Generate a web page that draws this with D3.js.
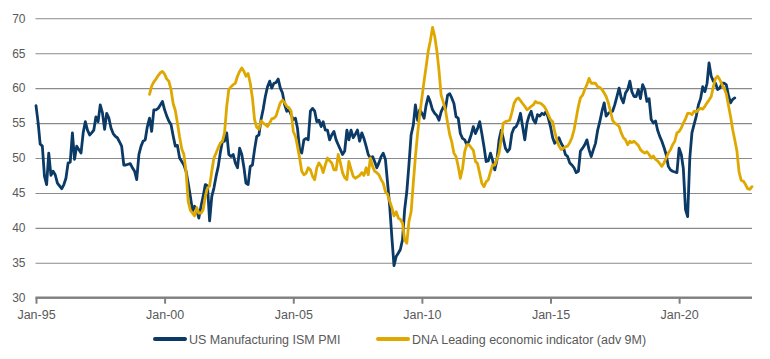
<!DOCTYPE html>
<html>
<head>
<meta charset="utf-8">
<script src="https://cdn.jsdelivr.net/npm/d3@7"></script>
<style>
  html, body { margin: 0; padding: 0; background: #ffffff; }
  svg { display: block; font-family: "Liberation Sans", Arial, Helvetica, sans-serif; }
</style>
</head>
<body>
<svg id="chart" width="770" height="359"></svg>
<script>
// ---- Data (monthly) ----
const ismStart = "1995-01";
const ismValues = [
  57.5,55.0,52.0,51.7,47.4,46.2,50.7,47.5,48.1,47.6,46.4,46.0,
  45.6,46.2,47.1,49.3,49.4,53.6,49.8,51.7,51.2,50.7,53.6,55.2,
  54.0,53.3,53.6,54.0,55.9,55.2,57.6,56.5,54.1,56.4,55.7,54.3,
  53.5,53.1,52.9,52.3,51.7,49.0,49.0,49.1,49.2,48.6,48.1,46.9,
  50.5,51.7,52.4,52.6,54.5,55.7,53.8,56.9,56.9,57.1,57.6,58.1,
  56.9,56.0,55.3,54.8,53.2,51.7,51.8,50.0,49.5,49.0,48.1,46.4,
  44.5,42.4,43.1,42.6,41.4,43.1,44.5,46.2,46.0,41.0,44.5,45.7,
  47.4,48.8,50.7,52.4,52.4,53.6,50.5,50.2,50.5,49.3,48.6,51.4,
  50.5,48.6,46.4,46.2,48.8,49.0,51.2,53.1,53.3,55.5,57.0,58.8,
  60.2,61.0,60.0,60.7,60.8,61.3,60.0,59.3,57.6,56.7,56.9,56.2,
  55.5,55.7,54.3,51.2,50.7,52.6,52.8,52.6,56.7,57.1,56.7,55.2,
  55.4,54.5,55.2,54.0,54.0,52.6,53.3,53.8,52.6,51.9,51.2,50.5,
  51.0,54.0,52.6,54.0,52.9,53.4,54.0,52.4,53.6,52.8,51.7,50.5,
  50.0,50.2,49.5,48.6,49.3,50.2,50.7,49.8,46.4,43.1,38.6,34.6,
  35.9,36.4,36.9,38.3,42.6,45.2,49.0,53.3,54.7,57.6,55.4,56.9,
  56.4,55.7,57.5,58.8,58.0,56.9,56.4,56.1,55.4,56.6,57.3,57.0,
  59.0,59.2,58.6,57.8,55.9,55.7,53.5,52.8,52.6,51.9,52.4,53.3,
  54.5,53.5,54.2,55.2,53.5,51.6,49.5,49.6,50.7,49.7,48.3,49.7,
  52.6,54.0,52.8,51.4,50.9,51.3,53.5,54.3,54.5,55.2,56.4,54.5,
  52.6,55.0,56.0,56.7,55.5,55.0,56.2,56.0,56.4,56.2,56.7,55.7,
  54.5,52.9,52.1,52.4,52.9,52.1,51.6,50.5,50.2,49.3,49.0,48.6,
  47.9,48.1,51.0,51.4,51.9,52.6,51.2,50.2,51.2,52.1,54.0,55.2,
  56.7,57.9,56.0,56.4,56.6,56.7,57.6,58.8,60.0,58.6,57.9,59.3,
  59.8,61.0,59.5,58.8,58.8,59.8,58.5,60.5,59.8,58.1,58.5,55.5,
  55.0,55.3,54.0,53.1,52.4,51.5,50.5,48.8,48.3,48.1,48.0,47.9,
  51.4,50.5,48.5,42.6,41.6,50.0,53.6,54.8,56.0,57.6,58.5,60.2,
  59.5,60.7,63.6,61.7,61.0,60.7,59.8,60.0,60.7,60.7,60.5,59.0,
  57.9,58.4,58.6
];

const dnaStart = "1999-06";
const dnaValues = [
  59.1,60.3,60.9,61.3,61.8,62.2,62.4,
  62.0,61.3,61.0,59.8,57.8,56.8,55.0,53.0,51.3,50.5,48.0,43.8,
  42.5,42.1,41.7,42.9,42.1,42.1,42.6,44.5,45.7,46.0,48.1,50.0,
  50.7,51.5,52.1,52.4,53.6,57.4,59.8,60.2,60.5,60.7,61.7,62.4,
  62.9,62.4,61.7,62.1,60.7,58.6,55.5,54.4,54.1,55.3,55.0,54.8,
  54.5,55.0,55.6,55.7,56.0,57.0,57.9,58.3,57.9,57.4,57.2,56.7,
  53.8,53.1,51.7,50.0,48.1,47.6,47.8,48.6,48.3,47.4,46.9,48.6,
  49.3,48.8,47.9,49.0,50.0,49.6,49.3,48.3,48.3,50.5,49.3,47.9,
  47.2,46.9,49.5,48.4,47.4,47.1,47.3,47.5,47.9,47.5,48.6,47.6,
  50.0,48.8,48.1,47.9,47.6,46.9,46.4,45.2,44.8,43.8,42.9,41.7,
  42.3,41.4,41.2,40.7,38.3,37.8,40.9,42.3,46.4,50.2,53.5,56.2,
  58.6,61.0,63.0,65.3,66.8,68.7,67.5,65.4,62.5,59.0,58.0,56.9,
  55.0,53.3,52.3,50.7,50.2,48.8,47.1,48.5,50.9,51.9,51.9,51.5,
  51.1,49.5,49.2,47.8,46.4,45.9,46.6,46.9,48.0,49.0,49.0,49.8,
  50.7,52.8,55.0,55.2,55.3,55.4,56.5,57.8,58.4,58.6,58.2,57.8,
  57.4,56.9,57.1,57.4,57.6,58.1,57.9,57.9,57.7,57.4,56.9,56.2,
  55.5,55.2,53.8,52.6,51.7,51.2,51.4,51.6,51.7,52.2,52.9,54.0,
  55.7,57.4,58.6,59.0,59.8,60.5,61.4,60.7,60.7,60.7,60.2,60.1,
  59.8,59.3,58.8,57.9,56.7,55.4,55.0,54.8,54.5,53.6,52.9,52.6,
  51.9,52.4,52.2,52.4,52.1,51.8,51.2,50.9,50.7,50.9,50.5,50.0,
  50.3,49.8,49.6,49.2,48.8,49.3,50.0,50.7,51.2,51.9,52.4,53.6,
  53.8,54.3,55.0,55.6,56.4,56.4,56.2,56.7,56.6,56.9,57.1,57.0,
  57.4,57.9,58.3,58.8,60.2,61.4,61.7,61.2,60.5,60.0,59.2,57.6,
  55.9,54.0,52.6,51.0,48.0,46.8,46.7,46.2,45.6,45.5,45.9
];

const xDomain = ["1995-01", "2022-11"];
const xTickLabels = ["1995-01", "2000-01", "2005-01", "2010-01", "2015-01", "2020-01"];
const yTicks = [30, 35, 40, 45, 50, 55, 60, 65, 70];
const seriesNames = ["US Manufacturing ISM PMI", "DNA Leading economic indicator (adv 9M)"];
const seriesColors = ["#0b3a66", "#dfa800"];

// ---- Build ----
(function () {
  const parseMonth = d3.timeParse("%Y-%m");
  function monthly(start, values) {
    const s = parseMonth(start);
    return values.map((v, i) => ({ date: d3.timeMonth.offset(s, i), value: v }));
  }
  const ism = monthly(ismStart, ismValues);
  const dna = monthly(dnaStart, dnaValues);

  const svg = d3.select("#chart");
  const mLeft = 35.5, mRight = 752, mTop = 18.3, mBottom = 297.7;

  const x = d3.scaleTime().domain(xDomain.map(parseMonth)).range([36, mRight]);
  const y = d3.scaleLinear().domain([30, 70]).range([mBottom, mTop]);

  const textColor = "#595959";

  // Y gridlines + labels
  const yAxis = d3.axisLeft(y).tickValues(yTicks).tickSize(-(mRight - mLeft)).tickPadding(10).tickFormat(d3.format("d"));
  const gy = svg.append("g").attr("transform", `translate(${mLeft},0)`).call(yAxis);
  gy.select(".domain").remove();
  gy.selectAll(".tick line").attr("stroke", "#8a8a8a").attr("stroke-width", 1.1);
  gy.selectAll(".tick text").attr("fill", textColor).style("font-size", "12px");

  // X axis
  const xAxis = d3.axisBottom(x).tickValues(xTickLabels.map(parseMonth))
    .tickFormat(d3.timeFormat("%b-%y")).tickSize(6).tickSizeOuter(0).tickPadding(6);
  const gx = svg.append("g").attr("transform", `translate(0,${mBottom})`).call(xAxis);
  gx.select(".domain").attr("stroke", "#808080").attr("stroke-width", 2.2).attr("d", `M${mLeft},0H${mRight}`);
  gx.selectAll(".tick line").attr("stroke", "#808080").attr("stroke-width", 2);
  gx.selectAll(".tick text").attr("fill", textColor).style("font-size", "12.5px");

  // Lines
  const line = d3.line().x(d => x(d.date)).y(d => y(d.value));
  svg.append("path").datum(ism).attr("d", line)
    .attr("fill", "none").attr("stroke", seriesColors[0]).attr("stroke-width", 2.8)
    .attr("stroke-linejoin", "round").attr("stroke-linecap", "round");
  svg.append("path").datum(dna).attr("d", line)
    .attr("fill", "none").attr("stroke", seriesColors[1]).attr("stroke-width", 2.8)
    .attr("stroke-linejoin", "round").attr("stroke-linecap", "round");

  // Legend
  const legendPos = [154, 377];
  const lg = svg.append("g");
  seriesNames.forEach((name, i) => {
    const g = lg.append("g").attr("transform", `translate(${legendPos[i]},339)`);
    g.append("line").attr("x1", 1).attr("x2", 31).attr("y1", 0).attr("y2", 0)
      .attr("stroke", seriesColors[i]).attr("stroke-width", 4).attr("stroke-linecap", "round");
    g.append("text").attr("x", 35).attr("y", 4.5).attr("fill", textColor)
      .style("font-size", "12.5px").text(name);
  });
})();
</script>
</body>
</html>
